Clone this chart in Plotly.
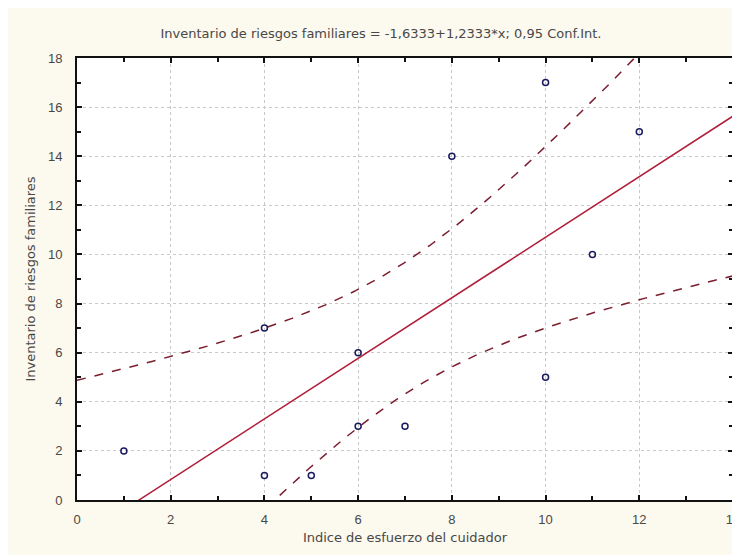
import numpy as np
import plotly.graph_objects as go

# Data
esfuerzo = [1, 4, 4, 5, 6, 6, 7, 8, 10, 10, 11, 12]
riesgos = [2, 7, 1, 1, 6, 3, 3, 14, 17, 5, 10, 15]
x_ticks = [0, 2, 4, 6, 8, 10, 12, 14]
y_ticks = [0, 2, 4, 6, 8, 10, 12, 14, 16, 18]
conf_level = 0.95
t_crit = 2.228  # t(0.975, df=10)

x = np.array(esfuerzo, dtype=float)
y = np.array(riesgos, dtype=float)
n = len(x)
slope, intercept = np.polyfit(x, y, 1)
resid = y - (intercept + slope * x)
s = np.sqrt(np.sum(resid ** 2) / (n - 2))
sxx = np.sum((x - x.mean()) ** 2)
xs = np.linspace(0, 14, 300)
fit = intercept + slope * xs
se = s * np.sqrt(1 / n + (xs - x.mean()) ** 2 / sxx)
upper = fit + t_crit * se
lower = fit - t_crit * se

red = "#b0203a"
dash_col = "#7a1d2e"
fig = go.Figure()
fig.add_trace(go.Scatter(x=xs, y=upper, mode="lines",
                         line=dict(color=dash_col, width=1.5, dash="dash"), showlegend=False))
fig.add_trace(go.Scatter(x=xs, y=lower, mode="lines",
                         line=dict(color=dash_col, width=1.5, dash="dash"), showlegend=False))
fig.add_trace(go.Scatter(x=xs, y=fit, mode="lines",
                         line=dict(color=red, width=1.5), showlegend=False))
fig.add_trace(go.Scatter(x=esfuerzo, y=riesgos, mode="markers",
                         marker=dict(symbol="circle-open", size=6, color="#1a1a5e",
                                     line=dict(width=1.5, color="#1a1a5e")),
                         showlegend=False, cliponaxis=False))

font = dict(family="Liberation Sans, Arial, sans-serif", size=11, color="#333333")
title_font = dict(family="DejaVu Sans, sans-serif", size=13, color="#484848")
axis_common = dict(
    showline=True, linecolor="#111111", linewidth=2, mirror="allticks",
    ticks="inside", ticklen=5, tickcolor="#111111", tickwidth=2,
    showgrid=True, gridcolor="#c8c8c8", griddash="dot", gridwidth=1,
    zeroline=False, tickfont=dict(size=13, color="#484848"), automargin=False,
    ticklabeloverflow="allow",
)
fig.update_xaxes(range=[0, 14], tickvals=x_ticks, **axis_common, ticklabelstandoff=6,
                 minor=dict(dtick=1, tick0=0, ticks="inside", ticklen=4,
                            tickcolor="#111111", tickwidth=2, showgrid=False),
                 title=dict(text="Indice de esfuerzo del cuidador", standoff=7,
                            font=title_font))
fig.update_yaxes(range=[0, 18], tickvals=y_ticks, **axis_common, ticklabelstandoff=10,
                 minor=dict(dtick=1, tick0=0, ticks="inside", ticklen=4,
                            tickcolor="#111111", tickwidth=2, showgrid=False),
                 title=dict(text="Inventario de riesgos familiares", standoff=9,
                            font=title_font))

# page body has an 8px default margin, so the figure is sized to fit inside the window
fig.update_layout(
    width=732, height=547,
    paper_bgcolor="#fcf9ee", plot_bgcolor="#ffffff",
    margin=dict(l=69, r=7, t=50, b=55, autoexpand=False),
    font=font,
    title=dict(text="Inventario de riesgos familiares = -1,6333+1,2333*x; 0,95 Conf.Int.",
               x=(381 - 8) / 732, xanchor="center", y=1 - 25 / 547, yanchor="middle",
               font=title_font, automargin=False),
)
fig.write_html("out.html")
